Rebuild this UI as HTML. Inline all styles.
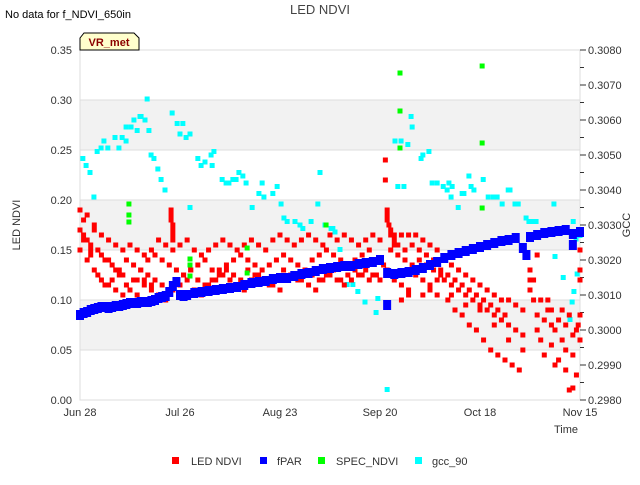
<!DOCTYPE html>
<html><head><meta charset="utf-8"><style>
body{margin:0;background:#fff;font-family:"Liberation Sans",sans-serif}
svg text{font-family:"Liberation Sans",sans-serif}
</style></head><body>
<svg id="c" width="640" height="480" viewBox="0 0 640 480" xmlns="http://www.w3.org/2000/svg">
<text x="5" y="18" font-size="11" fill="#000">No data for f_NDVI_650in</text>
<text x="320" y="14" font-size="13" fill="#444" text-anchor="middle">LED NDVI</text>
<g id="plot"></g>
<text x="20" y="225" font-size="11" fill="#333" text-anchor="middle" transform="rotate(-90 20 225)">LED NDVI</text>
<text x="630" y="225" font-size="11" fill="#333" text-anchor="middle" transform="rotate(-90 630 225)">GCC</text>
<text x="578" y="433" font-size="11" fill="#333" text-anchor="end">Time</text>
<g>
<path d="M80,50 L80,38 L84,33 L134,33 L139,38 L139,50 Z" fill="#ffffcc" stroke="#000" stroke-width="1"/>
<text x="109" y="46" font-size="11" font-weight="bold" fill="#8b0000" text-anchor="middle">VR_met</text>
</g>
<g>
<g><rect x="172" y="457" width="7" height="7" fill="#f00"/><text x="191" y="465" font-size="11" fill="#333">LED NDVI</text></g>
<g><rect x="260" y="457" width="7" height="7" fill="#00f"/><text x="277" y="465" font-size="11" fill="#333">fPAR</text></g>
<g><rect x="318" y="457" width="7" height="7" fill="#0f0"/><text x="336" y="465" font-size="11" fill="#333">SPEC_NDVI</text></g>
<g><rect x="415" y="457" width="7" height="7" fill="#0ff"/><text x="432" y="465" font-size="11" fill="#333">gcc_90</text></g>
</g>
</svg>
<script>
const xTickLabels=["Jun 28","Jul 26","Aug 23","Sep 20","Oct 18","Nov 15"];
const xTickDays=[0,28,56,84,112,140];
const yTicks=[0,0.05,0.1,0.15,0.2,0.25,0.3,0.35];
const y2Ticks=[0.298,0.299,0.300,0.301,0.302,0.303,0.304,0.305,0.306,0.307,0.308];
const fparDays=[0,1,2,3,4,5,6,7,8,9,10,11,12,13,14,15,16,17,18,19,20,21,22,23,24,25,26,27,28,29,30,32,34,36,38,40,42,44,46,48,50,52,54,56,58,60,62,64,66,68,70,72,74,76,78,80,82,84,86,88,90,92,94,96,98,100,102,104,106,108,110,112,114,116,118,120,122,124,126,128,130,132,134,136,138,140,86,125,138];
const fparVals=[0.085,0.087,0.088,0.090,0.091,0.092,0.093,0.093,0.092,0.093,0.094,0.094,0.095,0.096,0.097,0.097,0.097,0.098,0.098,0.098,0.099,0.100,0.102,0.103,0.104,0.108,0.114,0.118,0.105,0.104,0.105,0.107,0.108,0.109,0.110,0.111,0.112,0.113,0.115,0.117,0.118,0.119,0.121,0.122,0.122,0.124,0.126,0.127,0.129,0.131,0.132,0.133,0.134,0.134,0.136,0.137,0.138,0.140,0.127,0.126,0.127,0.128,0.130,0.132,0.135,0.138,0.142,0.145,0.147,0.149,0.151,0.153,0.155,0.157,0.159,0.160,0.162,0.152,0.163,0.165,0.167,0.168,0.169,0.170,0.166,0.168,0.095,0.145,0.155];
const ledDays=[0,2,4,6,8,10,12,14,16,18,20,22,24,26,28,30,32,34,36,38,40,42,44,46,48,50,52,54,56,58,60,62,64,66,68,70,72,74,76,78,80,82,84,
1,3,5,7,9,11,13,15,17,19,21,23,25,27,29,31,33,35,37,39,41,43,45,47,49,51,53,55,57,59,61,63,65,67,69,71,73,75,77,79,81,83,85,
0,2,4,6,8,10,12,14,16,18,20,22,24,26,28,30,32,34,36,38,40,42,44,46,48,50,52,54,56,58,60,62,64,66,68,70,72,74,76,78,80,82,84,
1,3,5,7,9,11,13,15,17,19,21,23,27,29,31,33,35,37,39,41,43,45,47,49,51,53,55,57,59,61,63,65,67,69,71,73,75,77,79,81,83,
0,1,2,3,4,6,8,10,12,14,16,18,20,
25.5,25.5,25.5,26,26,26,26,85.5,85.5,86,86,86,86.5,87,87,88,88,
88,90,92,94,96,98,100,87,89,91,93,95,97,99,101,86,88,90,92,94,96,98,100,90,92,96,98,100,89,91,93,95,97,99,
102,104,106,108,110,112,114,116,118,120,122,124,102,104,106,108,110,112,114,116,118,120,122,124,103,105,107,109,111,113,115,117,119,121,123,104,108,112,116,120,124,101,103,105,107,109,111,113,115,117,119,
126,126,126,127,128,128,129,130,130,131,131,132,132,133,133,134,135,135,136,136,137,137,138,138,138,139,139,140,140,140,140,140,139.5,128,129,127,134,136,132];
const ledVals=[0.19,0.185,0.175,0.165,0.16,0.155,0.15,0.155,0.15,0.145,0.15,0.16,0.155,0.15,0.155,0.16,0.15,0.145,0.15,0.155,0.16,0.155,0.15,0.155,0.16,0.155,0.15,0.16,0.165,0.16,0.155,0.16,0.165,0.16,0.155,0.165,0.16,0.165,0.16,0.155,0.16,0.165,0.16,
0.165,0.155,0.15,0.14,0.135,0.13,0.14,0.135,0.13,0.14,0.145,0.14,0.135,0.13,0.125,0.13,0.135,0.14,0.13,0.125,0.13,0.14,0.145,0.14,0.135,0.13,0.135,0.14,0.145,0.14,0.135,0.13,0.14,0.145,0.15,0.145,0.14,0.135,0.14,0.145,0.15,0.14,0.135,
0.15,0.14,0.13,0.12,0.115,0.11,0.105,0.11,0.12,0.115,0.11,0.105,0.1,0.11,0.115,0.12,0.11,0.105,0.115,0.12,0.125,0.12,0.115,0.11,0.12,0.125,0.12,0.115,0.11,0.12,0.125,0.12,0.115,0.11,0.12,0.125,0.12,0.115,0.12,0.125,0.13,0.125,0.12,
0.16,0.145,0.125,0.115,0.12,0.125,0.115,0.12,0.13,0.125,0.12,0.115,0.12,0.125,0.13,0.12,0.115,0.12,0.13,0.135,0.125,0.12,0.13,0.125,0.12,0.115,0.12,0.13,0.125,0.12,0.13,0.125,0.12,0.125,0.13,0.12,0.125,0.13,0.125,0.12,0.125,
0.17,0.18,0.16,0.15,0.17,0.145,0.14,0.13,0.125,0.11,0.105,0.12,0.115,
0.19,0.185,0.18,0.175,0.17,0.165,0.16,0.24,0.22,0.19,0.185,0.18,0.175,0.17,0.165,0.16,0.155,
0.165,0.165,0.165,0.165,0.16,0.155,0.15,0.15,0.145,0.14,0.135,0.14,0.135,0.13,0.125,0.13,0.12,0.115,0.11,0.125,0.12,0.115,0.12,0.1,0.105,0.105,0.11,0.105,0.155,0.15,0.155,0.15,0.145,0.14,
0.14,0.135,0.13,0.125,0.12,0.115,0.11,0.105,0.1,0.1,0.095,0.09,0.12,0.115,0.11,0.105,0.1,0.095,0.09,0.085,0.08,0.075,0.07,0.065,0.1,0.09,0.085,0.075,0.07,0.06,0.05,0.045,0.04,0.035,0.03,0.105,0.095,0.09,0.075,0.06,0.05,0.13,0.125,0.12,0.115,0.11,0.105,0.1,0.095,0.09,0.085,
0.11,0.12,0.13,0.12,0.085,0.07,0.06,0.08,0.045,0.1,0.09,0.075,0.055,0.035,0.07,0.04,0.09,0.06,0.075,0.03,0.085,0.01,0.065,0.045,0.012,0.07,0.025,0.15,0.13,0.12,0.085,0.06,0.075,0.145,0.1,0.1,0.08,0.05,0.09];
const specDays=[13.7,13.7,13.7,30.8,30.8,30.8,46.8,46.8,68.9,89.6,89.6,89.6,112.6,112.6,112.6];
const specVals=[0.196,0.185,0.178,0.141,0.135,0.124,0.152,0.127,0.175,0.327,0.289,0.252,0.334,0.257,0.192];
const gccDays=[0.8,1.7,2.8,3.9,4.8,5.9,6.7,7.8,9.8,10.9,11.8,12.9,12.9,14.3,15.1,16,16.8,17.1,18.2,18.8,19.3,19.9,20.7,21.8,22.7,23.8,25.8,27.2,28,28.8,29.7,30.8,30.8,33,33.9,35,36.7,37,37.5,39.8,40.9,41.7,42.8,43.7,44.5,45.6,46.5,48.2,50.1,51,51.5,54,55.2,56.3,57.1,58,60.2,61.6,62.4,64.7,66.6,67.2,68.6,70.3,71.4,70.8,72.8,73.9,74.8,74.8,76.4,77.8,79.8,82.9,83.4,86,89,90.7,89.9,88.2,91.8,92.7,93,96,95.5,97.7,98.6,100,101.7,102.8,103.3,103.9,104.2,105.9,107,107.5,108.9,109.5,110.3,112.9,114.3,115.7,116.8,118.2,119.9,120.4,121.8,122.7,124.9,125.7,126.9,127.7,129.9,130.5,132.7,133,135.3,137.2,137.8,138.3,139.2,138.9,140,138.1];
const gccVals=[0.3049,0.3047,0.3045,0.3038,0.3051,0.3052,0.3054,0.3052,0.3055,0.3052,0.3055,0.3054,0.3058,0.3058,0.3060,0.3057,0.3061,0.3061,0.3060,0.3066,0.3057,0.3050,0.3049,0.3046,0.3043,0.3040,0.3062,0.3059,0.3056,0.3059,0.3055,0.3056,0.3035,0.3049,0.3047,0.3048,0.3050,0.3047,0.3051,0.3043,0.3042,0.3042,0.3043,0.3043,0.3045,0.3044,0.3042,0.3035,0.3039,0.3042,0.3038,0.3039,0.3041,0.3036,0.3032,0.3031,0.3031,0.3030,0.3029,0.3031,0.3036,0.3045,0.3030,0.3029,0.3028,0.3029,0.3023,0.3019,0.3018,0.3013,0.3013,0.3011,0.3008,0.3005,0.3009,0.2983,0.3041,0.3041,0.3054,0.3054,0.3053,0.3061,0.3058,0.3050,0.3049,0.3051,0.3042,0.3042,0.3041,0.3040,0.3042,0.3038,0.3041,0.3035,0.3039,0.3039,0.3044,0.3041,0.3040,0.3043,0.3038,0.3038,0.3038,0.3036,0.3040,0.3040,0.3036,0.3036,0.3032,0.3031,0.3031,0.3031,0.3028,0.3028,0.3036,0.3021,0.3015,0.3003,0.3008,0.3011,0.3016,0.3026,0.3027,0.3031];

const NS="http://www.w3.org/2000/svg";
const L=80,R=580,T=50,B=400;
const xS=d=>L+(d-0)/(140-0)*(R-L);
const yS=v=>B-(v-0)/(0.35-0)*(B-T);
const y2S=v=>B-(v-0.298)/(0.308-0.298)*(B-T);
const g=document.getElementById('plot');
function mk(tag,attrs,parent){const e=document.createElementNS(NS,tag);for(const k in attrs)e.setAttribute(k,attrs[k]);(parent||g).appendChild(e);return e;}
for(let i=0;i<yTicks.length-1;i++){
 if(i%2===1){const r=mk('rect',{x:L,y:yS(yTicks[i+1]),width:R-L,height:yS(yTicks[i])-yS(yTicks[i+1]),fill:'#f2f2f2'});
 
 }
}
yTicks.forEach(v=>{const ln=mk('line',{x1:L,x2:R,y1:yS(v),y2:yS(v),stroke:'#ddd','stroke-width':1});
 
 
 const t=mk('text',{x:L-8,y:yS(v)+4,'font-size':11,fill:'#333','text-anchor':'end'});t.textContent=v.toFixed(2);
 
 });
mk('rect',{x:L,y:T,width:R-L,height:B-T,fill:'none',stroke:'#ddd'});
y2Ticks.forEach((v,i)=>{const y=y2S(v);mk('line',{x1:R,x2:R+6,y1:y,y2:y,stroke:'#333'});
 if(i<y2Ticks.length-1)mk('line',{x1:R,x2:R+4,y1:y2S(v+0.0005),y2:y2S(v+0.0005),stroke:'#333'});
 const t=mk('text',{x:R+8,y:y+4,'font-size':11,fill:'#333'});t.textContent=v.toFixed(4);
 
 });
xTickDays.forEach((d,i)=>{const t=mk('text',{x:xS(d),y:B+16,'font-size':11,fill:'#333','text-anchor':'middle'});t.textContent=xTickLabels[i];
 
 });
const sg=mk('g',{});
gccDays.forEach((d,i)=>{const r=mk('rect',{x:xS(d)-2.5,y:y2S(gccVals[i])-2.5,width:5,height:5,fill:'#0ff'},sg);
 
 });
const lg=mk('g',{});
ledDays.forEach((d,i)=>{const r=mk('rect',{x:xS(d)-2.5,y:yS(ledVals[i])-2.5,width:5,height:5,fill:'#f00'},lg);
 
 });
const fg=mk('g',{});
fparDays.forEach((d,i)=>{const r=mk('rect',{x:xS(d)-4,y:yS(fparVals[i])-5,width:8,height:10,fill:'#00f'},fg);
 
 });
const pg=mk('g',{});
specDays.forEach((d,i)=>{const r=mk('rect',{x:xS(d)-2.5,y:yS(specVals[i])-2.5,width:5,height:5,fill:'#0f0'},pg);
 
 });
</script>
</body></html>
